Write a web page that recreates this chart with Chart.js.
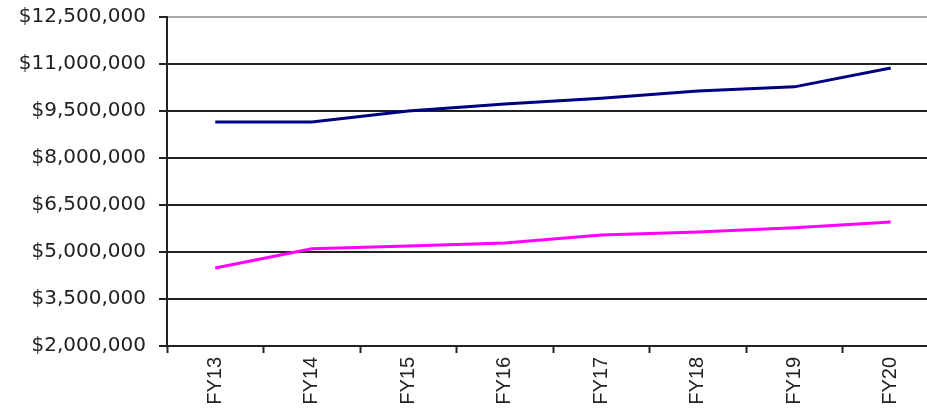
<!DOCTYPE html>
<html lang="en">

<head>
    <meta charset="UTF-8">
    <title>FY13 - FY20</title>
    <script src="https://cdn.jsdelivr.net/npm/chart.js"></script>
    <style>
        html, body { margin: 0; padding: 0; background: #fff; overflow: hidden; }
        /* shifted up a little: Chart.js keeps ~25px above the plot area */
        .chart-container { position: relative; top: -8px; width: 939px; height: 417px; }
    </style>
</head>

<body>
    <div class="chart-container">
        <canvas id="fyChart"></canvas>
    </div>

    <script>
        // Fiscal years along the bottom
        var years = ['FY13', 'FY14', 'FY15', 'FY16', 'FY17', 'FY18', 'FY19', 'FY20'];

        // Values
        var upperSeries = [9150000, 9150000, 9500000, 9720000, 9910000, 10140000, 10270000, 10870000];
        var lowerSeries = [4490000, 5100000, 5190000, 5290000, 5540000, 5640000, 5770000, 5960000];

        // Value axis
        var axisMin = 2000000;
        var axisMax = 12500000;
        var axisStep = 1500000;

        var fontFamily = '"Liberation Sans", Arial, sans-serif';

        var ctx = document.getElementById('fyChart').getContext('2d');
        var chart = new Chart(ctx, {
            type: 'line',
            data: {
                labels: years,
                datasets: [{
                    label: 'Upper',
                    data: upperSeries,
                    borderColor: '#000080',
                    borderWidth: 3,
                    pointRadius: 0,
                    tension: 0,
                    fill: false
                }, {
                    label: 'Lower',
                    data: lowerSeries,
                    borderColor: '#ff00ff',
                    borderWidth: 3,
                    pointRadius: 0,
                    tension: 0,
                    fill: false
                }]
            },
            options: {
                responsive: true,
                maintainAspectRatio: false,
                animation: false,
                layout: {
                    padding: { top: 0, left: 10, right: 0, bottom: 0 }
                },
                plugins: {
                    legend: { display: false },
                    tooltip: { enabled: false }
                },
                scales: {
                    x: {
                        offset: true,
                        grid: {
                            offset: true,
                            drawOnChartArea: false,
                            drawTicks: true,
                            tickLength: 7,
                            tickWidth: 2,
                            tickColor: '#222'
                        },
                        border: { color: '#222', width: 2 },
                        ticks: {
                            autoSkip: false,
                            minRotation: 90,
                            maxRotation: 90,
                            padding: 4,
                            color: '#222',
                            font: { family: fontFamily, size: 20 }
                        },
                        afterFit: function(scale) { scale.height = 63; }
                    },
                    y: {
                        min: axisMin,
                        max: axisMax,
                        grid: {
                            color: function(c) { return c.tick && c.tick.value === axisMax ? '#aaa' : '#222'; },
                            lineWidth: 2,
                            tickLength: 8,
                            tickColor: '#222'
                        },
                        border: { color: '#222', width: 2 },
                        ticks: {
                            stepSize: axisStep,
                            padding: 13,
                            color: '#222',
                            font: { family: '"DejaVu Sans", Verdana, sans-serif', size: 20 },
                            callback: function(value) {
                                return '$' + value.toLocaleString('en-US');
                            }
                        },
                        afterFit: function(scale) { scale.width = 157; }
                    }
                }
            }
        });
    </script>
</body>

</html>
